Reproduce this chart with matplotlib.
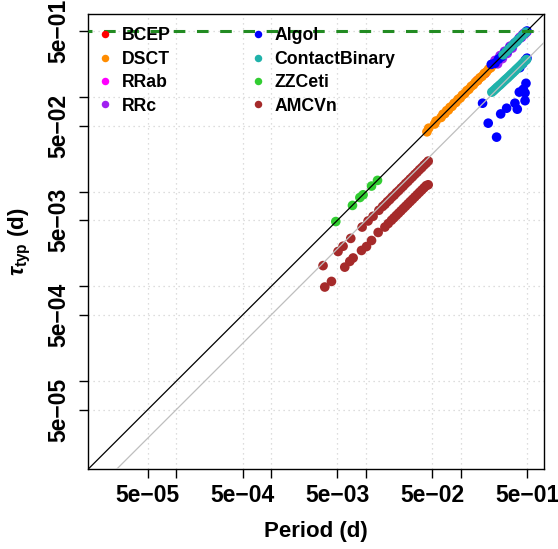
import matplotlib
matplotlib.use('Agg')
import matplotlib.pyplot as plt
from matplotlib.lines import Line2D
from matplotlib.ticker import NullLocator

# ---------------- data ----------------
classes = ['BCEP', 'DSCT', 'RRab', 'RRc', 'Algol', 'ContactBinary', 'ZZCeti', 'AMCVn']
colors = ['#FF0000', '#FF8C00', '#FF00FF', '#A020F0', '#0000FF', '#20B2AA', '#32CD32', '#A52A2A']

bcep_period = [0.150, 0.180]
bcep_tau = [0.150, 0.178]

dsct_period = [0.044, 0.046, 0.053, 0.055, 0.062, 0.065, 0.068, 0.071, 0.074, 0.077, 0.081,
               0.085, 0.089, 0.094, 0.099, 0.104, 0.110, 0.116, 0.122, 0.129, 0.136, 0.143,
               0.151, 0.159, 0.168, 0.177, 0.187, 0.197, 0.208, 0.220, 0.232]
dsct_tau = [0.043, 0.047, 0.052, 0.056, 0.061, 0.066, 0.067, 0.072, 0.073, 0.078, 0.080,
            0.086, 0.088, 0.095, 0.098, 0.105, 0.109, 0.117, 0.121, 0.130, 0.135, 0.144,
            0.150, 0.160, 0.166, 0.178, 0.185, 0.198, 0.205, 0.221, 0.229]

rrab_period = [0.42, 0.44, 0.46, 0.48, 0.50]
rrab_tau = [0.43, 0.43, 0.47, 0.47, 0.49]

rrc_period = [0.23, 0.245, 0.26, 0.275, 0.29, 0.31, 0.33, 0.35]
rrc_tau = [0.245, 0.225, 0.275, 0.255, 0.305, 0.290, 0.345, 0.330]

algol_period = [0.21, 0.23, 0.25, 0.27, 0.29, 0.31, 0.33, 0.35, 0.37, 0.39, 0.41, 0.43,
                0.45, 0.47, 0.49, 0.50,
                0.42, 0.45, 0.48, 0.50,
                0.170, 0.195, 0.239, 0.264, 0.305, 0.373, 0.395, 0.415, 0.457, 0.488,
                0.477, 0.477]
algol_tau = [0.222, 0.228, 0.252, 0.268, 0.292, 0.308, 0.332, 0.348, 0.372, 0.388, 0.412, 0.428,
             0.452, 0.468, 0.490, 0.500,
             0.205, 0.226, 0.246, 0.258,
             0.0863, 0.0531, 0.0378, 0.0665, 0.0764, 0.0863, 0.0746, 0.113, 0.121, 0.140,
             0.0918, 0.111]

cb_period = [0.28, 0.30, 0.32, 0.34, 0.36, 0.38, 0.40, 0.42, 0.44, 0.46, 0.48, 0.49,
             0.213, 0.222, 0.232, 0.242, 0.253, 0.264, 0.276, 0.288, 0.301, 0.314, 0.328,
             0.342, 0.357, 0.373, 0.389, 0.406, 0.424, 0.443, 0.462, 0.482, 0.495]
cb_tau = [0.280, 0.300, 0.320, 0.340, 0.360, 0.380, 0.400, 0.420, 0.440, 0.460, 0.478, 0.488,
          0.113, 0.117, 0.122, 0.127, 0.132, 0.137, 0.143, 0.149, 0.155, 0.161, 0.168,
          0.175, 0.182, 0.190, 0.198, 0.206, 0.215, 0.224, 0.234, 0.244, 0.250]

zz_period = [0.00481, 0.00721, 0.00863, 0.00934, 0.01146, 0.01325]
zz_tau = [0.00485, 0.00718, 0.00870, 0.00930, 0.01150, 0.01320]

amcvn_period = [0.00353, 0.00508, 0.00574, 0.00692, 0.00912, 0.01054, 0.0119, 0.0137, 0.0150,
                0.0159, 0.0168, 0.0178, 0.0188, 0.0199, 0.0210, 0.0222, 0.0235, 0.0248,
                0.0262, 0.0277, 0.0293, 0.0310, 0.0328, 0.0347, 0.0367, 0.0388, 0.0410,
                0.0432, 0.0454,
                0.00368, 0.00433, 0.00598, 0.00676, 0.00733, 0.00898, 0.01014, 0.01146,
                0.01346, 0.01585, 0.0172, 0.0186, 0.0197, 0.0209, 0.0221, 0.0234, 0.0248,
                0.0262, 0.0277, 0.0293, 0.0310, 0.0328, 0.0347, 0.0367, 0.0388, 0.0410,
                0.0432, 0.0454]
amcvn_tau = [0.00166, 0.00234, 0.00266, 0.00322, 0.00424, 0.00492, 0.00551, 0.00638, 0.00700,
             0.00737, 0.00785, 0.00826, 0.00878, 0.00922, 0.00980, 0.01030, 0.01095, 0.01150,
             0.01222, 0.01285, 0.01365, 0.01440, 0.01528, 0.01610, 0.01710, 0.01800, 0.01910,
             0.02005, 0.02110,
             0.000986, 0.00113, 0.00160, 0.00184, 0.00200, 0.00240, 0.00264, 0.00306,
             0.00372, 0.00424, 0.00462, 0.00500, 0.00530, 0.00562, 0.00594, 0.00629, 0.00667,
             0.00704, 0.00745, 0.00788, 0.00833, 0.00882, 0.00933, 0.00987, 0.01043, 0.01102,
             0.01161, 0.01186]

periods = [bcep_period, dsct_period, rrab_period, rrc_period, algol_period, cb_period,
           zz_period, amcvn_period]
taus = [bcep_tau, dsct_tau, rrab_tau, rrc_tau, algol_tau, cb_tau, zz_tau, amcvn_tau]

tick_values = [5e-5, 1e-4, 5e-4, 1e-3, 5e-3, 1e-2, 5e-2, 1e-1, 5e-1]
tick_labels = ['5e\u221205', '', '5e\u221204', '', '5e\u221203', '', '5e\u221202', '', '5e\u221201']
tau_cap = 0.5
axis_lo, axis_hi = 1.17e-5, 0.756

# ---------------- styling ----------------
plt.rcParams['font.family'] = ['Liberation Sans', 'DejaVu Sans']
plt.rcParams['font.weight'] = 'bold'
plt.rcParams['mathtext.fontset'] = 'custom'
plt.rcParams['mathtext.rm'] = 'Liberation Sans:bold'
plt.rcParams['mathtext.bf'] = 'Liberation Sans:bold'
plt.rcParams['mathtext.it'] = 'Liberation Sans:italic'

W, H = 558, 549
fig = plt.figure(figsize=(W / 100, H / 100), dpi=100)
ax = fig.add_axes([88 / W, 1 - 469.3 / H, 456 / W, 455.3 / H])
ax.set_xscale('log')
ax.set_yscale('log')
ax.set_xlim(axis_lo, axis_hi)
ax.set_ylim(axis_lo, axis_hi)

ax.set_xticks(tick_values)
ax.set_xticklabels(tick_labels)
ax.set_yticks(tick_values)
ax.set_yticklabels(tick_labels, rotation=90, va='center')
ax.xaxis.set_minor_locator(NullLocator())
ax.yaxis.set_minor_locator(NullLocator())
ax.tick_params(axis='both', which='major', length=6.7, width=1, labelsize=16.5)
ax.tick_params(axis='x', pad=4)
ax.tick_params(axis='y', pad=6)
for s in ax.spines.values():
    s.set_linewidth(1)
    s.set_color('black')

ax.grid(True, which='major', color='#d3d3d3', linestyle=(0, (1, 3)), linewidth=0.9)
ax.set_axisbelow(True)

for p, t, c in zip(periods, taus, colors):
    ax.scatter(p, t, s=48, color=c, edgecolors='none', zorder=3)

ax.plot([axis_lo, axis_hi], [axis_lo, axis_hi], color='black', lw=0.9, zorder=4)
ax.plot([axis_lo, axis_hi], [axis_lo / 2, axis_hi / 2], color='#bebebe', lw=0.9, zorder=4)
ax.axhline(tau_cap, color='#228B22', lw=2.2, linestyle=(2.5, (3.8, 3.8)), zorder=5)

ax.set_xlabel('Period (d)', fontsize=16, fontweight='bold', labelpad=10)
ax.set_ylabel(r'$\tau_{\mathbf{typ}}$ (d)', fontsize=16, fontweight='bold', labelpad=10)

handles = [Line2D([], [], marker='o', linestyle='none', color=c, markersize=5.4,
                  markeredgewidth=0) for c in colors]
leg = ax.legend(handles, classes, ncol=2, frameon=False, fontsize=12.7,
                loc='upper left', bbox_to_anchor=(96 / W, 1 - 27.5 / H),
                bbox_transform=fig.transFigure, borderpad=0, borderaxespad=0,
                handlelength=1.0, handletextpad=0.45, columnspacing=4.45,
                labelspacing=0.36)
leg.set_zorder(6)

fig.savefig('out.png', dpi=100)
